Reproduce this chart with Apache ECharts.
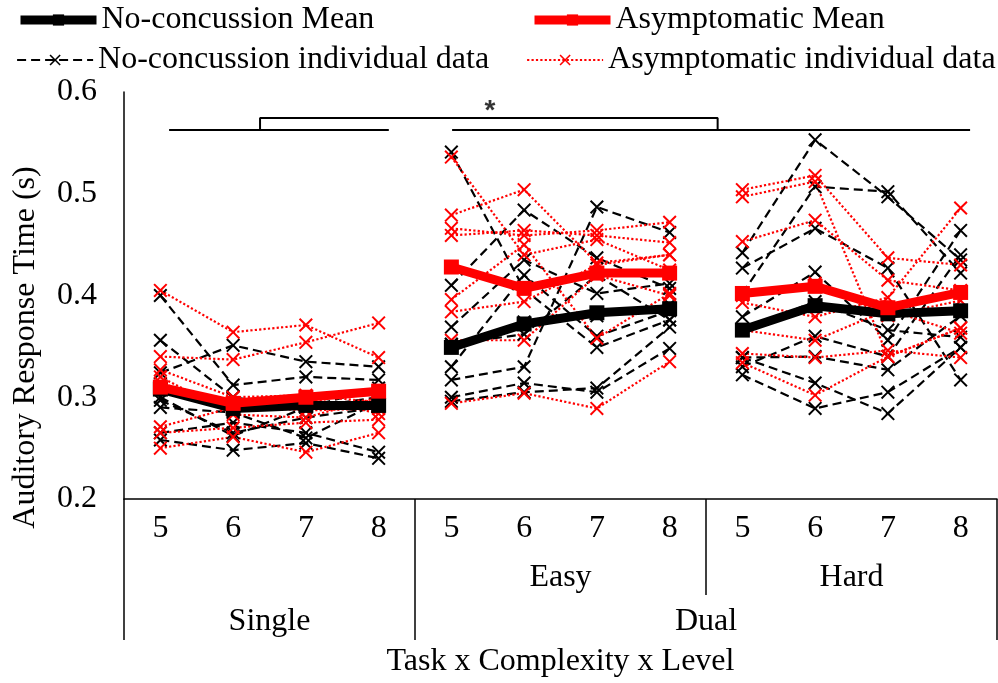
<!DOCTYPE html>
<html>
<head>
<meta charset="utf-8">
<script src="https://cdn.jsdelivr.net/npm/echarts@6/dist/echarts.min.js"></script>
<style>
  html, body { margin: 0; padding: 0; background: #fff; }
  #chart { width: 998px; height: 683px; }
</style>
</head>
<body>
<div id="chart"></div>
<script>
// Level labels along the x axis (Single 5-8, Easy 5-8, Hard 5-8)
const levels = ['5', '6', '7', '8', '5', '6', '7', '8', '5', '6', '7', '8'];
// Group labels keyed by position on the 0..11 category index scale
const complexityLabels = { 5.5: 'Easy', 9.5: 'Hard' };
const taskLabels = { 1.5: 'Single', 7.5: 'Dual' };
const yTicks = [0.2, 0.3, 0.4, 0.5, 0.6];

// Group means, one value per level in each block
const noConcMean = [0.308, 0.289, 0.292, 0.292, 0.349, 0.372, 0.383, 0.387, 0.366, 0.390, 0.382, 0.385];
const asymMean   = [0.310, 0.294, 0.300, 0.306, 0.428, 0.407, 0.422, 0.422, 0.402, 0.409, 0.388, 0.403];

// Individual participants, levels 5-8 per block
const noConcSingle = [
  [0.400, 0.312, 0.320, 0.317], [0.356, 0.300, 0.290, 0.309], [0.324, 0.351, 0.335, 0.330],
  [0.310, 0.287, 0.300, 0.305], [0.297, 0.265, 0.280, 0.290], [0.265, 0.275, 0.265, 0.246],
  [0.258, 0.248, 0.255, 0.240], [0.300, 0.262, 0.290, 0.300], [0.290, 0.285, 0.260, 0.295]
];
const noConcEasy = [
  [0.541, 0.406, 0.349, 0.376], [0.410, 0.484, 0.437, 0.407], [0.369, 0.435, 0.402, 0.412],
  [0.317, 0.330, 0.487, 0.462], [0.300, 0.314, 0.305, 0.348], [0.296, 0.305, 0.309, 0.369],
  [0.352, 0.374, 0.380, 0.391], [0.330, 0.420, 0.360, 0.385], [0.352, 0.362, 0.420, 0.376]
];
const noConcHard = [
  [0.442, 0.553, 0.497, 0.435], [0.402, 0.507, 0.502, 0.422], [0.427, 0.466, 0.427, 0.317],
  [0.379, 0.423, 0.356, 0.464], [0.366, 0.394, 0.366, 0.359], [0.339, 0.314, 0.284, 0.349],
  [0.322, 0.289, 0.305, 0.349], [0.339, 0.340, 0.327, 0.380], [0.330, 0.360, 0.340, 0.440]
];
const asymSingle = [
  [0.405, 0.364, 0.371, 0.339], [0.340, 0.337, 0.354, 0.373], [0.327, 0.300, 0.302, 0.295],
  [0.314, 0.292, 0.287, 0.289], [0.271, 0.290, 0.300, 0.284], [0.250, 0.261, 0.246, 0.265],
  [0.320, 0.283, 0.280, 0.300], [0.265, 0.270, 0.275, 0.278]
];
const asymEasy = [
  [0.536, 0.440, 0.455, 0.425], [0.479, 0.504, 0.432, 0.440], [0.466, 0.459, 0.464, 0.472],
  [0.459, 0.464, 0.459, 0.452], [0.396, 0.450, 0.358, 0.402], [0.384, 0.394, 0.430, 0.440],
  [0.356, 0.356, 0.420, 0.400], [0.294, 0.304, 0.289, 0.335]
];
const asymHard = [
  [0.504, 0.518, 0.437, 0.430], [0.497, 0.512, 0.340, 0.368], [0.453, 0.474, 0.415, 0.405],
  [0.393, 0.379, 0.398, 0.486], [0.366, 0.356, 0.386, 0.363], [0.343, 0.339, 0.346, 0.339],
  [0.334, 0.302, 0.340, 0.368], [0.400, 0.412, 0.380, 0.395]
];

// Significance bracket, in (category index, seconds)
const sigSingleLine = [[0.12, 0.5627], [3.14, 0.5627]];
const sigDualLine = [[4.01, 0.5627], [11.13, 0.5627]];
const sigBracket = [[1.37, 0.5627], [1.37, 0.5744], [7.66, 0.5744], [7.66, 0.5627]];
const sigStar = [[4.53, 0.5815]];

const SERIF = 'Liberation Serif';
const FONT = 32;
const N_CAT = levels.length;
const crossPath = 'path://M1,0 L5,4 L9,0 L10,1 L6,5 L10,9 L9,10 L5,6 L1,10 L0,9 L4,5 L0,1 Z';

const NAME_NC_MEAN = 'No-concussion Mean';
const NAME_AS_MEAN = 'Asymptomatic Mean';
const NAME_NC_IND = 'No-concussion individual data';
const NAME_AS_IND = 'Asymptomatic individual data';

// Place 4 values into a 12-slot row, null elsewhere, so blocks stay unconnected
function blockRow(values, block) {
  const row = new Array(N_CAT).fill(null);
  values.forEach((v, i) => { row[block * 4 + i] = v; });
  return row;
}

const series = [];

function addIndividuals(groups, name, color, lineType) {
  groups.forEach((people, block) => {
    people.forEach(vals => {
      series.push({
        type: 'line', name, xAxisIndex: 0, yAxisIndex: 0,
        data: blockRow(vals, block),
        connectNulls: false,
        symbol: crossPath, symbolSize: 14,
        itemStyle: { color },
        lineStyle: { color, width: 2.2, type: lineType },
        z: 2, silent: true
      });
    });
  });
}

function addMean(values, name, color, z) {
  for (let b = 0; b < 3; b++) {
    series.push({
      type: 'line', name, xAxisIndex: 0, yAxisIndex: 0,
      data: blockRow(values.slice(b * 4, b * 4 + 4), b),
      connectNulls: false,
      symbol: 'rect', symbolSize: 15,
      itemStyle: { color },
      lineStyle: { color, width: 9 },
      z, silent: true
    });
  }
}

addIndividuals([noConcSingle, noConcEasy, noConcHard], NAME_NC_IND, '#000000', [9, 5]);
addIndividuals([asymSingle, asymEasy, asymHard], NAME_AS_IND, '#ff0000', 'dotted');
addMean(noConcMean, NAME_NC_MEAN, '#000000', 5);
addMean(asymMean, NAME_AS_MEAN, '#ff0000', 6);

// Significance annotation
[sigSingleLine, sigDualLine, sigBracket].forEach(seg => {
  series.push({
    type: 'line', xAxisIndex: 1, yAxisIndex: 0, data: seg,
    symbol: 'none', lineStyle: { color: '#000', width: 2 }, z: 7, silent: true
  });
});
series.push({
  type: 'scatter', xAxisIndex: 1, yAxisIndex: 0, data: sigStar,
  symbolSize: 1, itemStyle: { color: 'rgba(0,0,0,0)' },
  label: { show: true, position: 'inside', formatter: '*', fontSize: 28, fontWeight: 'bold', color: '#000', fontFamily: 'Liberation Sans' },
  z: 7, silent: true
});

const legendText = { fontSize: FONT, color: '#000', fontFamily: SERIF };
function legendAt(name, left, top) {
  return {
    data: [name], left, top, orient: 'horizontal',
    itemWidth: 76, itemHeight: 14, itemGap: 0,
    lineStyle: { width: 'inherit' },
    textStyle: legendText, selectedMode: false, padding: 0
  };
}

const chart = echarts.init(document.getElementById('chart'), null, { renderer: 'canvas' });

const valueAxisBase = {
  type: 'value', min: -0.5, max: N_CAT - 0.5, position: 'bottom',
  axisLine: { show: false, onZero: false }, axisTick: { show: false }, splitLine: { show: false }
};

chart.setOption({
  animation: false,
  backgroundColor: '#ffffff',
  grid: { left: 124, right: 1, top: 92, bottom: 184, containLabel: false, outerBoundsMode: 'none' },
  legend: [
    legendAt(NAME_NC_MEAN, 16, 4),
    legendAt(NAME_AS_MEAN, 530, 4),
    legendAt(NAME_NC_IND, 16, 44),
    legendAt(NAME_AS_IND, 526, 44)
  ],
  xAxis: [
    {
      type: 'category', data: levels, position: 'bottom', boundaryGap: true,
      axisLine: { show: true, onZero: false, lineStyle: { color: '#000', width: 1.5 } },
      axisTick: { show: false },
      splitLine: { show: false },
      axisLabel: { interval: 0, margin: 14, fontSize: FONT, color: '#000', fontFamily: SERIF },
      name: 'Task x Complexity x Level', nameLocation: 'middle', nameGap: 147,
      nameTextStyle: { fontSize: FONT, color: '#000', fontFamily: SERIF }
    },
    Object.assign({}, valueAxisBase, { show: false }),
    Object.assign({}, valueAxisBase, {
      interval: 2,
      axisLabel: {
        margin: 63, fontSize: FONT, color: '#000', fontFamily: SERIF,
        showMinLabel: true, showMaxLabel: true,
        formatter: v => complexityLabels[v] || ''
      }
    }),
    Object.assign({}, valueAxisBase, {
      interval: 2,
      axisLabel: {
        margin: 107, fontSize: FONT, color: '#000', fontFamily: SERIF,
        showMinLabel: true, showMaxLabel: true,
        formatter: v => taskLabels[v] || ''
      }
    })
  ],
  yAxis: {
    type: 'value', min: yTicks[0], max: yTicks[yTicks.length - 1], interval: 0.1,
    axisLine: { show: true, onZero: false, lineStyle: { color: '#000', width: 1.5 } },
    axisTick: { show: false },
    splitLine: { show: false },
    axisLabel: { margin: 27, fontSize: FONT, color: '#000', fontFamily: SERIF, formatter: v => v.toFixed(1) },
    name: 'Auditory Response Time (s)', nameLocation: 'middle', nameGap: 82, nameRotate: 90,
    nameTextStyle: { fontSize: FONT, color: '#000', fontFamily: SERIF, padding: [0, 104, 0, 0] }
  },
  series
});

// Block separators below the x axis, positioned from the axis scales
function drawSeparators() {
  const base = chart.convertToPixel({ yAxisIndex: 0 }, yTicks[0]);
  const px = v => chart.convertToPixel({ xAxisIndex: 1 }, v);
  const seps = [
    { x: px(-0.5), depth: 141 },
    { x: px(3.5), depth: 141 },
    { x: px(7.5), depth: 96 },
    { x: px(N_CAT - 0.5), depth: 141 }
  ];
  chart.setOption({
    graphic: seps.map(s => ({
      type: 'line', silent: true, z: 10,
      shape: { x1: s.x, y1: base, x2: s.x, y2: base + s.depth },
      style: { stroke: '#000', lineWidth: 1.5 }
    }))
  });
}
drawSeparators();
</script>
</body>
</html>
